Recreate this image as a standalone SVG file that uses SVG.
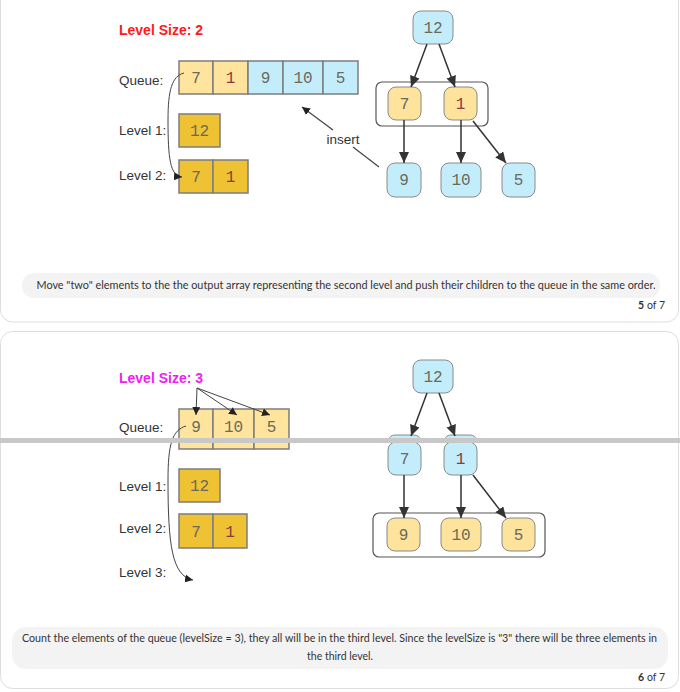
<svg xmlns="http://www.w3.org/2000/svg" width="680" height="692" viewBox="0 0 680 692">
<defs>
<style>
.card{fill:#ffffff;stroke:#dedede;stroke-width:1}
.cap{fill:#f3f3f3}
.capt{font-family:Lato,"Open Sans",sans-serif;font-size:10.5px;fill:#333}
.lbl{font-family:"Liberation Sans",Arial,sans-serif;font-size:13.5px;fill:#333}
.ttl{font-family:"Liberation Sans",Arial,sans-serif;font-size:14px;font-weight:bold}
.num{font-family:"Liberation Mono","Courier New",monospace;font-size:16px;fill:#6a6a5a;text-anchor:middle}
.one{fill:#8a3c3c}
.qy{fill:#ffe49e;stroke:#7d7d7d;stroke-width:1.5}
.qb{fill:#c4edfb;stroke:#7d7d7d;stroke-width:1.5}
.lv{fill:#efc233;stroke:#7d7d7d;stroke-width:1.5}
.nb{fill:#c4edfb;stroke:#8a8a8a;stroke-width:1}
.ny{fill:#fee39c;stroke:#8a8a8a;stroke-width:1}
.grp{fill:none;stroke:#555;stroke-width:1.2}
.edge{stroke:#333;stroke-width:1.5;fill:none;marker-end:url(#ah)}
.thin{stroke:#444;stroke-width:1;fill:none;marker-end:url(#sh)}
</style>
<marker id="ah" markerUnits="userSpaceOnUse" markerWidth="12" markerHeight="10" refX="11" refY="5" orient="auto">
<path d="M0,0 L11,5 L0,10 z" fill="#333"/>
</marker>
<marker id="sh" markerUnits="userSpaceOnUse" markerWidth="9" markerHeight="8" refX="8" refY="4" orient="auto">
<path d="M0,0 L8,4 L0,8 z" fill="#222"/>
</marker>
</defs>
<rect width="680" height="692" fill="#ffffff"/>

<!-- Card 1 -->
<g id="card1">
<rect class="card" x="0.5" y="-20" width="678" height="342" rx="12"/>
<text class="ttl" x="119" y="35" fill="#ff1a1a">Level Size: 2</text>
<text class="lbl" x="119" y="85">Queue:</text>
<text class="lbl" x="119" y="135">Level 1:</text>
<text class="lbl" x="119" y="180">Level 2:</text>
<rect class="cap" x="22" y="273" width="638" height="25" rx="12"/>
<text class="capt" x="346" y="289" text-anchor="middle" textLength="619" lengthAdjust="spacingAndGlyphs">Move "two" elements to the the output array representing the second level and push their children to the queue in the same order.</text>
<text class="capt" x="665" y="309" text-anchor="end"><tspan font-weight="bold">5</tspan> of 7</text>
</g>

<g id="queue1">
<rect class="qy" x="179" y="61" width="34" height="33"/><text class="num" x="196" y="83">7</text>
<rect class="qy" x="213" y="61" width="35" height="33"/><text class="num one" x="230.5" y="83">1</text>
<rect class="qb" x="248" y="61" width="35" height="33"/><text class="num" x="265.5" y="83">9</text>
<rect class="qb" x="283" y="61" width="40" height="33"/><text class="num" x="303" y="83">10</text>
<rect class="qb" x="323" y="61" width="35" height="33"/><text class="num" x="340.5" y="83">5</text>
</g>
<g id="level1a">
<rect class="lv" x="179" y="114" width="41" height="33"/><text class="num" x="199.5" y="136">12</text>
</g>
<g id="level2a">
<rect class="lv" x="179" y="160" width="34" height="33"/><text class="num" x="196" y="182">7</text>
<rect class="lv" x="213" y="160" width="35" height="33"/><text class="num one" x="230.5" y="182">1</text>
</g>

<g id="tree1">
<rect class="grp" x="376" y="82" width="112" height="44" rx="6"/>
<g id="t1n12"><rect class="nb" x="413" y="11" width="40" height="33" rx="8"/><text class="num" x="433" y="33">12</text></g>
<g id="t1n7"><rect class="ny" x="388" y="87" width="33" height="33" rx="8"/><text class="num" x="404.5" y="109">7</text></g>
<g id="t1n1"><rect class="ny" x="444" y="87" width="33" height="33" rx="8"/><text class="num one" x="460.5" y="109">1</text></g>
<g id="t1n9"><rect class="nb" x="387" y="163" width="34" height="34" rx="8"/><text class="num" x="404" y="185">9</text></g>
<g id="t1n10"><rect class="nb" x="441" y="163" width="40" height="34" rx="8"/><text class="num" x="461" y="185">10</text></g>
<g id="t1n5"><rect class="nb" x="502" y="163" width="33" height="34" rx="8"/><text class="num" x="518.5" y="185">5</text></g>
</g>

<g id="connectors1">
<line class="edge" x1="427" y1="44" x2="411" y2="87"/>
<line class="edge" x1="439" y1="44" x2="455" y2="87"/>
<line class="edge" x1="404" y1="120" x2="404" y2="163"/>
<line class="edge" x1="461" y1="120" x2="461" y2="163"/>
<line class="edge" x1="473" y1="121" x2="506" y2="163"/>
<path class="thin" d="M184,73 C172,76 168,90 168,120 C168,158 170,176 182,177"/>
<line x1="379" y1="167" x2="353" y2="147" stroke="#444" stroke-width="1.2"/>
<line x1="333" y1="130" x2="302" y2="107" stroke="#444" stroke-width="1.2" marker-end="url(#sh)"/>
<text class="lbl" x="343" y="144" text-anchor="middle" font-size="13">insert</text>
</g>

<!-- Card 2 -->
<g id="card2">
<rect class="card" x="0.5" y="331.5" width="678" height="357" rx="12"/>
<text class="ttl" x="119" y="383" fill="#ee22ee">Level Size: 3</text>
<text class="lbl" x="119" y="432">Queue:</text>
<text class="lbl" x="119" y="491">Level 1:</text>
<text class="lbl" x="119" y="533">Level 2:</text>
<text class="lbl" x="119" y="577">Level 3:</text>
<rect class="cap" x="12" y="627" width="656" height="42" rx="14"/>
<text class="capt" x="339.5" y="642" text-anchor="middle" textLength="635" lengthAdjust="spacingAndGlyphs">Count the elements of the queue (levelSize = 3), they all will be in the third level. Since the levelSize is "3" there will be three elements in</text>
<text class="capt" x="340" y="660" text-anchor="middle">the third level.</text>
<text class="capt" x="665" y="681" text-anchor="end"><tspan font-weight="bold">6</tspan> of 7</text>
</g>

<g id="queue2">
<rect class="qy" x="179" y="409" width="34" height="40"/><text class="num" x="196" y="432">9</text>
<rect class="qy" x="213" y="409" width="41" height="40"/><text class="num" x="233.5" y="432">10</text>
<rect class="qy" x="254" y="409" width="35" height="40"/><text class="num" x="271.5" y="432">5</text>
</g>
<g id="level1b">
<rect class="lv" x="179" y="469" width="41" height="33"/><text class="num" x="199.5" y="491">12</text>
</g>
<g id="level2b">
<rect class="lv" x="179" y="514" width="34" height="34"/><text class="num" x="196" y="537">7</text>
<rect class="lv" x="213" y="514" width="34" height="34"/><text class="num one" x="230" y="537">1</text>
</g>

<g id="tree2">
<rect class="grp" x="373" y="513" width="172" height="44" rx="6"/>
<g id="t2n12"><rect class="nb" x="413" y="360" width="40" height="33" rx="8"/><text class="num" x="433" y="382">12</text></g>
<g id="t2n7"><rect class="nb" x="389" y="435" width="31" height="9" rx="6"/><rect class="nb" x="388" y="442" width="33" height="33" rx="8"/><text class="num" x="404.5" y="464">7</text></g>
<g id="t2n1"><rect class="nb" x="445" y="435" width="31" height="9" rx="6"/><rect class="nb" x="444" y="442" width="33" height="33" rx="8"/><text class="num one" x="460.5" y="464">1</text></g>
<g id="t2n9"><rect class="ny" x="387" y="518" width="33" height="33" rx="8"/><text class="num" x="403.5" y="540">9</text></g>
<g id="t2n10"><rect class="ny" x="441" y="518" width="40" height="33" rx="8"/><text class="num" x="461" y="540">10</text></g>
<g id="t2n5"><rect class="ny" x="502" y="518" width="33" height="33" rx="8"/><text class="num" x="518.5" y="540">5</text></g>
</g>

<g id="connectors2">
<line class="edge" x1="427" y1="393" x2="411" y2="436"/>
<line class="edge" x1="439" y1="393" x2="455" y2="436"/>
<line class="edge" x1="404" y1="475" x2="404" y2="518"/>
<line class="edge" x1="461" y1="475" x2="461" y2="518"/>
<line class="edge" x1="473" y1="475" x2="506" y2="518"/>
<line class="thin" x1="197" y1="388" x2="196" y2="415"/>
<line class="thin" x1="197" y1="388" x2="237" y2="415"/>
<line class="thin" x1="197" y1="388" x2="270" y2="415"/>
<path class="thin" d="M186,426 C172,430 168,445 168,480 C168,545 172,576 193,580"/>
</g>

<rect id="seam" x="0" y="438" width="680" height="5" fill="#c8c8c8"/>
</svg>
